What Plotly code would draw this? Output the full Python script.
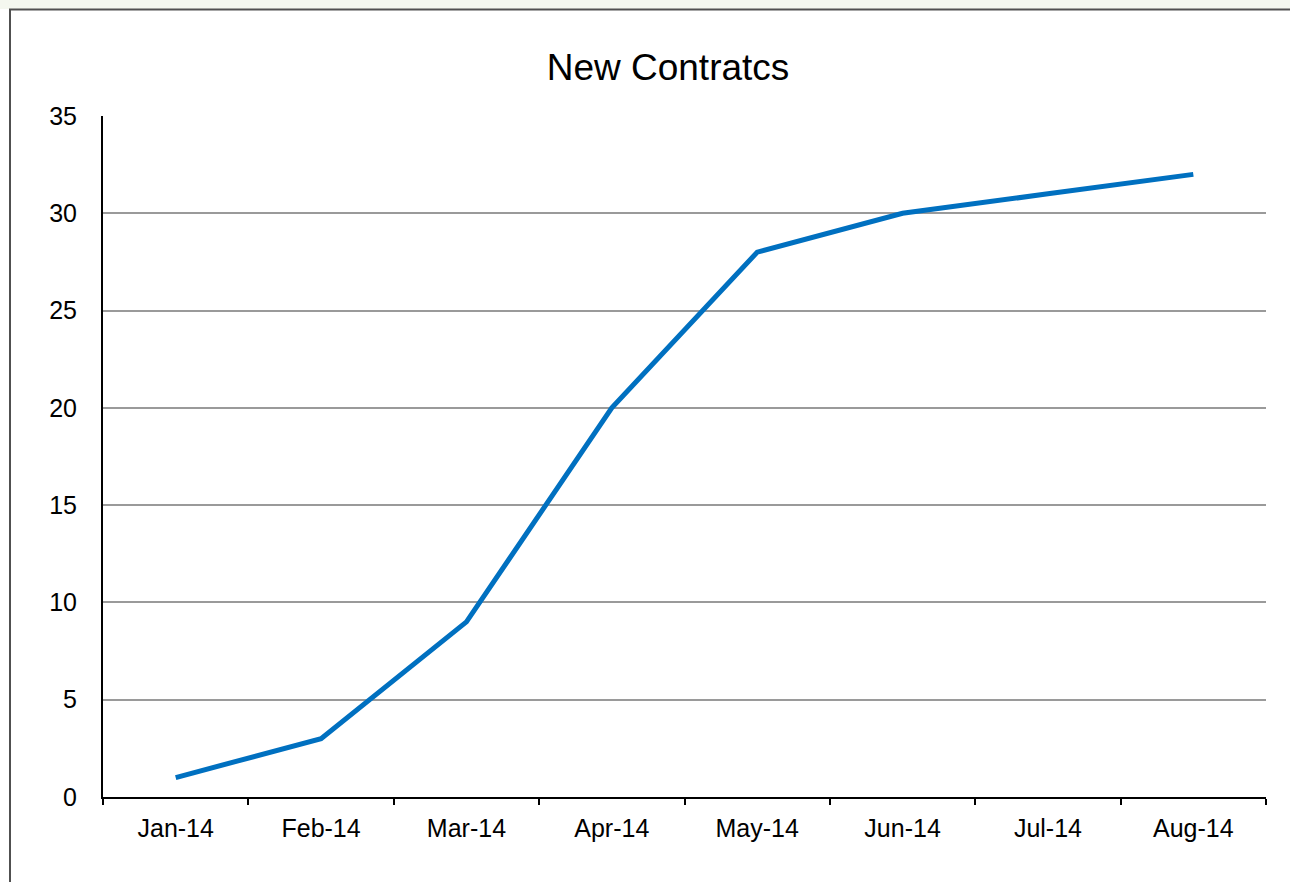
import plotly.graph_objects as go

months = ["Jan-14", "Feb-14", "Mar-14", "Apr-14", "May-14", "Jun-14", "Jul-14", "Aug-14"]
contracts = [1, 3, 9, 20, 28, 30, 31, 32]
y_ticks = [0, 5, 10, 15, 20, 25, 30, 35]

W, H = 1290, 882
L, R, T, B = 103, 24, 116, 85
pw, ph = W - L - R, H - T - B

def px_x(x):
    return (x - L) / pw

def px_y(y):
    return 1 - (y - T) / ph

fig = go.Figure()
fig.add_trace(go.Scatter(
    x=months, y=contracts, mode="lines",
    line=dict(color="#0070C0", width=5),
    hoverinfo="x+y",
))

fig.update_layout(
    width=W, height=H,
    margin=dict(l=L, r=R, t=T, b=B),
    paper_bgcolor="white", plot_bgcolor="white",
    font=dict(family="Liberation Sans, Arial", color="black", size=25),
    showlegend=False,
    title=dict(text="New Contratcs", x=px_x(668), xref="paper", xanchor="center",
               y=1 - 67 / H, yanchor="middle", font=dict(size=37, color="black")),
    xaxis=dict(
        type="category", range=[-0.5, 7.5],
        showgrid=False, showline=True, linecolor="black", linewidth=2,
        ticks="outside", tickson="boundaries", ticklen=6, tickwidth=1.5, tickcolor="black",
        tickfont=dict(size=25), ticklabelstandoff=8,
    ),
    yaxis=dict(
        range=[0, 35], tickvals=y_ticks, showgrid=True, gridcolor="#9a9a9a", gridwidth=1.5,
        showline=True, linecolor="black", linewidth=2, zeroline=False,
        ticks="", tickfont=dict(size=25), ticklabelstandoff=19,
    ),
    shapes=[
        dict(type="rect", xref="paper", yref="paper",
             x0=px_x(0), x1=px_x(W), y0=px_y(0), y1=px_y(9),
             fillcolor="#f4f7ef", line=dict(width=0), layer="below"),
        dict(type="line", xref="paper", yref="paper",
             x0=px_x(9), x1=px_x(W), y0=px_y(9.5), y1=px_y(9.5),
             line=dict(color="#505050", width=2)),
        dict(type="line", xref="paper", yref="paper",
             x0=px_x(10), x1=px_x(10), y0=px_y(9), y1=px_y(H),
             line=dict(color="#505050", width=2)),
    ],
)

fig.write_html("out.html", config={"displayModeBar": False},
               post_script="document.body.style.margin='0';document.body.style.overflow='hidden';")
